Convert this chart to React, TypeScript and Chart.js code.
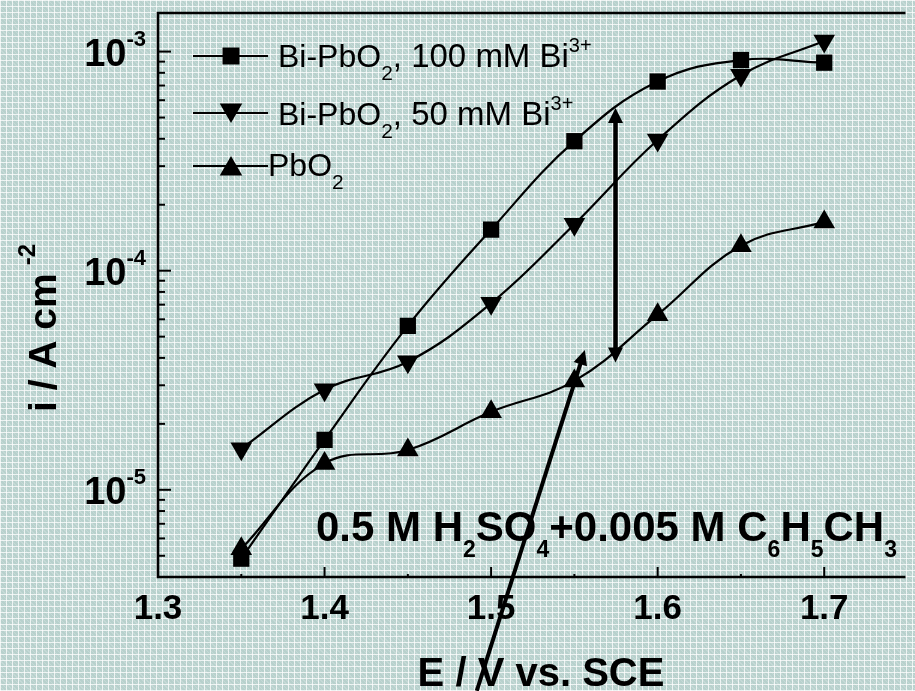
import React, { useEffect, useRef } from "react";
import { Chart, registerables } from "chart.js";

Chart.register(...registerables);

// ---- data ----
const potentials = [1.35, 1.4, 1.45, 1.5, 1.55, 1.6, 1.65, 1.7];
const bi100 = [4.85e-6, 1.69e-5, 5.6e-5, 1.54e-4, 3.9e-4, 7.3e-4, 9.15e-4, 8.9e-4];
const bi50 = [1.54e-5, 2.86e-5, 3.84e-5, 7.1e-5, 1.63e-4, 3.95e-4, 7.8e-4, 1.117e-3];
const pbo2 = [5.38e-6, 1.32e-5, 1.52e-5, 2.27e-5, 3.14e-5, 6.3e-5, 1.3e-4, 1.67e-4];

const xTickValues = [1.3, 1.4, 1.5, 1.6, 1.7];
const xTickLabels = ["1.3", "1.4", "1.5", "1.6", "1.7"];
const yDecades = [-5, -4, -3];
const xMin = 1.3;
const xMax = 1.747;
const yMin = 4e-6;
const yMax = 1.5e-3;

// arrows in data coordinates: [x1, y1, x2, y2]
const verticalArrow = [1.5747, 3.81e-5, 1.5747, 5.53e-4];
const slantArrow = [1.4914, 1.21e-6, 1.5563, 4.35e-5];

const FONT = '"Liberation Sans", Arial, Helvetica, sans-serif';

type Seg = { t: string; size: number; dy: number; bold?: boolean; dx?: number };

function drawRich(ctx: CanvasRenderingContext2D, x: number, y: number, segs: Seg[]) {
  let cx = x;
  for (const s of segs) {
    ctx.font = `${s.bold ? "bold " : ""}${s.size}px ${FONT}`;
    cx += s.dx || 0;
    ctx.fillText(s.t, cx, y + s.dy);
    cx += ctx.measureText(s.t).width;
  }
  return cx;
}

function richWidth(ctx: CanvasRenderingContext2D, segs: Seg[]) {
  let w = 0;
  for (const s of segs) {
    ctx.font = `${s.bold ? "bold " : ""}${s.size}px ${FONT}`;
    w += ctx.measureText(s.t).width + (s.dx || 0);
  }
  return w;
}

function marker(ctx: CanvasRenderingContext2D, style: string, x: number, y: number, r: number) {
  ctx.beginPath();
  if (style === "rect") {
    const s = Math.SQRT1_2 * r;
    ctx.rect(x - s, y - s, 2 * s, 2 * s);
  } else {
    let rad = style === "down" ? Math.PI : 0;
    const step = (2 * Math.PI) / 3;
    ctx.moveTo(x + Math.sin(rad) * r, y - Math.cos(rad) * r);
    rad += step;
    ctx.lineTo(x + Math.sin(rad) * r, y - Math.cos(rad) * r);
    rad += step;
    ctx.lineTo(x + Math.sin(rad) * r, y - Math.cos(rad) * r);
    ctx.closePath();
  }
  ctx.fill();
}

function arrowHead(ctx: CanvasRenderingContext2D, tx: number, ty: number, fx: number, fy: number, len: number, half: number) {
  const ang = Math.atan2(ty - fy, tx - fx);
  const bx = tx - Math.cos(ang) * len;
  const by = ty - Math.sin(ang) * len;
  ctx.beginPath();
  ctx.moveTo(tx, ty);
  ctx.lineTo(bx + Math.sin(ang) * half, by - Math.cos(ang) * half);
  ctx.lineTo(bx - Math.sin(ang) * half, by + Math.cos(ang) * half);
  ctx.closePath();
  ctx.fill();
}

const overlay = {
  id: "overlay",
  afterDraw(chart: any) {
    const ctx: CanvasRenderingContext2D = chart.ctx;
    const a = chart.chartArea;
    const xs = chart.scales.x;
    const ys = chart.scales.y;
    ctx.save();
    ctx.strokeStyle = "#000";
    ctx.fillStyle = "#000";
    ctx.lineCap = "butt";

    // frame
    ctx.lineWidth = 2.6;
    ctx.beginPath();
    ctx.moveTo(a.right + 3, a.top);
    ctx.lineTo(a.left, a.top);
    ctx.lineTo(a.left, a.bottom);
    ctx.lineTo(a.right + 3, a.bottom);
    ctx.stroke();

    // y ticks (inward)
    ctx.lineWidth = 2;
    for (const d of yDecades.concat([-6])) {
      for (let m = 1; m <= 9; m++) {
        const v = m * Math.pow(10, d);
        if (v < yMin * 1.001 || v > yMax) continue;
        const py = ys.getPixelForValue(v);
        const len = m === 1 ? 13 : 7;
        ctx.beginPath();
        ctx.moveTo(a.left, py);
        ctx.lineTo(a.left + len, py);
        ctx.stroke();
      }
    }
    // x ticks (inward)
    for (let i = 0; i < xTickValues.length; i++) {
      const v = xTickValues[i];
      const px = xs.getPixelForValue(v);
      if (i > 0) {
        ctx.beginPath();
        ctx.moveTo(px, a.bottom);
        ctx.lineTo(px, a.bottom - 10);
        ctx.stroke();
      }
      const mv = v + 0.05;
      if (mv < xMax) {
        const mx = xs.getPixelForValue(mv);
        ctx.beginPath();
        ctx.moveTo(mx, a.bottom);
        ctx.lineTo(mx, a.bottom - 3);
        ctx.stroke();
      }
    }

    // x tick labels
    ctx.textBaseline = "alphabetic";
    ctx.textAlign = "center";
    ctx.font = `bold 35px ${FONT}`;
    for (let i = 0; i < xTickValues.length; i++) {
      ctx.fillText(xTickLabels[i], xs.getPixelForValue(xTickValues[i]), 619);
    }
    ctx.textAlign = "left";

    // y tick labels
    for (const d of yDecades) {
      const py = ys.getPixelForValue(Math.pow(10, d));
      const segs: Seg[] = [
        { t: "10", size: 38, dy: 14, bold: true },
        { t: String(d), size: 22, dy: -6, bold: true },
      ];
      const w = richWidth(ctx, segs);
      drawRich(ctx, 146 - w, py, segs);
    }

    // axis titles
    const xt: Seg[] = [{ t: "E / V vs. SCE", size: 40, dy: 0, bold: true }];
    const xw = richWidth(ctx, xt);
    drawRich(ctx, 541 - xw / 2, 686, xt);

    ctx.save();
    ctx.translate(56, 412);
    ctx.rotate(-Math.PI / 2);
    drawRich(ctx, 0, 0, [
      { t: "i / A cm", size: 39, dy: 0, bold: true },
      { t: "-2", size: 24, dy: -21, bold: true, dx: 8 },
    ]);
    ctx.restore();

    // legend
    const rows = [
      {
        style: "rect",
        ly: 56,
        tx: 278,
        base: 67,
        segs: [
          { t: "Bi-PbO", size: 32, dy: 0 },
          { t: "2", size: 21, dy: 13 },
          { t: ", 100 mM Bi", size: 33, dy: 0 },
          { t: "3+", size: 20, dy: -15 },
        ],
      },
      {
        style: "down",
        ly: 113,
        tx: 278,
        base: 125,
        segs: [
          { t: "Bi-PbO", size: 32, dy: 0 },
          { t: "2", size: 21, dy: 13 },
          { t: ", 50 mM Bi", size: 33, dy: 0 },
          { t: "3+", size: 20, dy: -15 },
        ],
      },
      {
        style: "up",
        ly: 166,
        tx: 268,
        base: 176,
        segs: [
          { t: "PbO", size: 32, dy: 0 },
          { t: "2", size: 21, dy: 13 },
        ],
      },
    ];
    for (const r of rows) {
      ctx.lineWidth = 2;
      ctx.beginPath();
      ctx.moveTo(193, r.ly);
      ctx.lineTo(268, r.ly);
      ctx.stroke();
      marker(ctx, r.style, 231, r.ly + (r.style === "down" ? -3 : r.style === "up" ? 3 : 0), r.style === "rect" ? 12 : 13);
      drawRich(ctx, r.tx, r.base, r.segs);
    }

    // annotation
    drawRich(ctx, 316, 541, [
      { t: "0.5 M H", size: 42, dy: 0, bold: true },
      { t: "2", size: 23, dy: 16, bold: true },
      { t: "SO", size: 42, dy: 0, bold: true },
      { t: "4", size: 23, dy: 16, bold: true },
      { t: "+0.005 M C", size: 42, dy: 0, bold: true },
      { t: "6", size: 23, dy: 16, bold: true },
      { t: "H", size: 42, dy: 0, bold: true },
      { t: "5", size: 23, dy: 16, bold: true },
      { t: "CH", size: 42, dy: 0, bold: true },
      { t: "3", size: 23, dy: 16, bold: true },
    ]);

    // arrows
    ctx.lineWidth = 4.5;
    {
      const x1 = xs.getPixelForValue(verticalArrow[0]);
      const y1 = ys.getPixelForValue(verticalArrow[1]);
      const x2 = xs.getPixelForValue(verticalArrow[2]);
      const y2 = ys.getPixelForValue(verticalArrow[3]);
      ctx.beginPath();
      ctx.moveTo(x1, y1 - 10);
      ctx.lineTo(x2, y2 + 10);
      ctx.stroke();
      arrowHead(ctx, x1, y1, x2, y2, 15, 7.5);
      arrowHead(ctx, x2, y2, x1, y1, 15, 7.5);
    }
    {
      const x1 = xs.getPixelForValue(slantArrow[0]);
      const y1 = ys.getPixelForValue(slantArrow[1]);
      const x2 = xs.getPixelForValue(slantArrow[2]);
      const y2 = ys.getPixelForValue(slantArrow[3]);
      const ang = Math.atan2(y2 - y1, x2 - x1);
      ctx.lineWidth = 4;
      ctx.beginPath();
      ctx.moveTo(x1, y1);
      ctx.lineTo(x2 - Math.cos(ang) * 10, y2 - Math.sin(ang) * 10);
      ctx.stroke();
      arrowHead(ctx, x2, y2, x1, y1, 15, 7);
    }

    ctx.restore();
  },
};

export default function App() {
  const ref = useRef<HTMLCanvasElement>(null);
  useEffect(() => {
    if (!ref.current) return;
    const mk = (label: string, data: number[], style: string, rot: number, r: number) => ({
      label,
      data: potentials.map((p, i) => ({ x: p, y: data[i] })),
      borderColor: "#000",
      backgroundColor: "#000",
      borderWidth: 2.2,
      pointStyle: style,
      pointRotation: rot,
      pointRadius: r,
      pointBorderWidth: 0,
      pointBackgroundColor: "#000",
      tension: 0.4,
      fill: false,
      clip: false,
    });
    const chart = new Chart(ref.current, {
      type: "line",
      data: {
        datasets: [
          mk("Bi-PbO2, 100 mM Bi3+", bi100, "rect", 0, 11.5),
          mk("Bi-PbO2, 50 mM Bi3+", bi50, "triangle", 180, 12.5),
          mk("PbO2", pbo2, "triangle", 0, 12.5),
        ] as any,
      },
      options: {
        responsive: false,
        animation: false,
        events: [],
        layout: { padding: { left: 158, top: 13, right: 0, bottom: 114 } },
        scales: {
          x: { type: "linear", min: xMin, max: xMax, display: false },
          y: { type: "logarithmic", min: yMin, max: yMax, display: false },
        },
        plugins: { legend: { display: false }, tooltip: { enabled: false } },
      },
      plugins: [overlay],
    });
    return () => chart.destroy();
  }, []);

  return (
    <div
      style={{
        position: "fixed",
        left: 0,
        top: 0,
        width: 915,
        height: 691,
        overflow: "hidden",
        backgroundColor: "#b8d1cd",
        backgroundImage:
          "repeating-linear-gradient(0deg, rgba(255,255,255,0.75) 0px, rgba(255,255,255,0.75) 1px, transparent 1px, transparent 6px), repeating-linear-gradient(90deg, rgba(255,255,255,0.75) 0px, rgba(255,255,255,0.75) 1px, transparent 1px, transparent 6px), repeating-linear-gradient(45deg, rgba(255,255,255,0.18) 0px, rgba(255,255,255,0.18) 1px, transparent 1px, transparent 3px)",
      }}
    >
      <canvas ref={ref} width={915} height={691} style={{ display: "block" }} />
    </div>
  );
}
